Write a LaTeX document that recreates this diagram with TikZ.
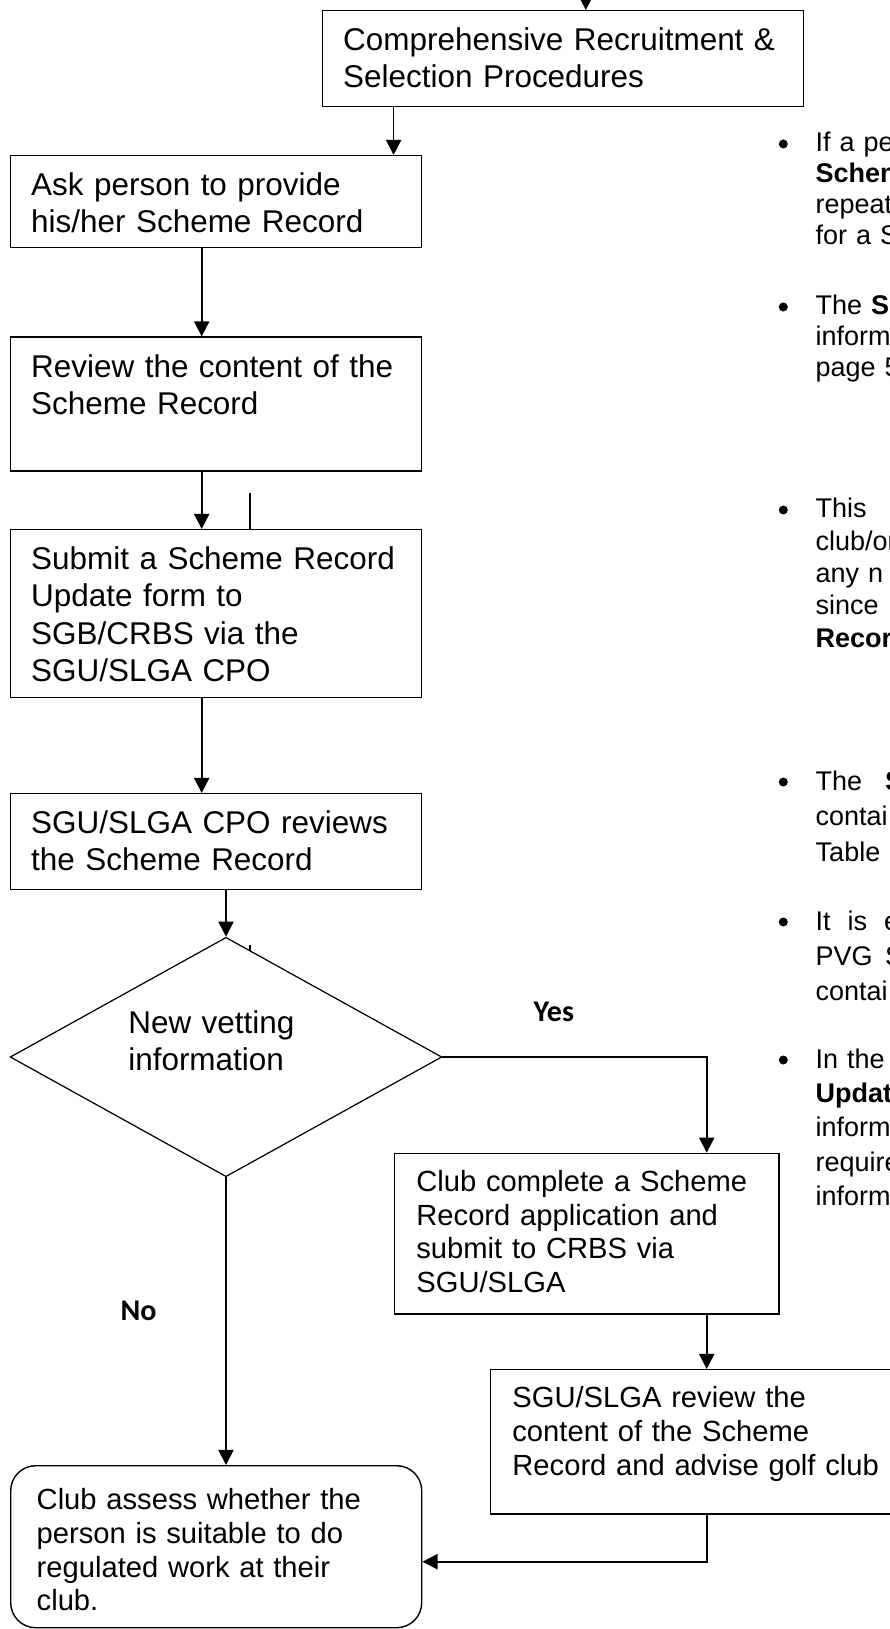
\documentclass[tikz,border=0pt]{standalone}
\usepackage{fontspec}
\setmainfont{Liberation Sans}
\newfontfamily\labelfont{Carlito}
\usetikzlibrary{arrows.meta}
\usetikzlibrary{shapes.geometric}

\begin{document}
\begin{tikzpicture}
    \tikzstyle{process box} = [draw, line width=0.4pt, rectangle, anchor=north west,
        inner xsep=0.205cm, inner ysep=0pt, text height=0.40cm, text width=3.70cm,
        align=left, font=\fontsize{8.95}{10.6}\selectfont]
    \tikzstyle{small box} = [process box, inner xsep=0.217cm, text height=0.38cm,
        font=\fontsize{8.3}{9.59}\selectfont]
    \tikzstyle{decision} = [draw, line width=0.35pt, diamond, aspect=1.8, inner sep=0pt,
        minimum width=4.317cm, minimum height=2.394cm, align=left,
        font=\fontsize{8.95}{10.6}\selectfont]
    \tikzstyle{flow line} = [line width=0.5pt]
    \tikzstyle{flow arrow} = [flow line, -{Triangle[width=4.3pt, length=4.3pt]}]
    \tikzstyle{branch label} = [anchor=base west, inner sep=0pt,
        font=\labelfont\bfseries\fontsize{8.54}{10}\selectfont]
    \tikzstyle{note text} = [anchor=base west, inner sep=0pt, text width=1.5cm, align=left]
    \tikzstyle{bullet dot} = [circle, fill, inner sep=0pt, minimum size=0.09cm]

    \useasboundingbox (0, 0) rectangle (8.90, -16.29);

    % main column
    \node[process box, text width=4.40cm, text depth=0.56cm] (topbox) at (3.22, -0.10)
        {Comprehensive Recruitment \&\\Selection Procedures};
    \node[process box, text depth=0.52cm] (askbox) at (0.10, -1.55)
        {Ask person to provide\\his/her Scheme Record};
    \node[process box, text depth=0.94cm] (reviewbox) at (0.10, -3.365)
        {Review the content of the\\Scheme Record};
    \node[process box, text depth=1.28cm] (submitbox) at (0.10, -5.29)
        {Submit a Scheme Record\\Update form to\\SGB/CRBS via the\\SGU/SLGA CPO};
    \node[process box, text depth=0.56cm] (cpobox) at (0.10, -7.93)
        {SGU/SLGA CPO reviews\\the Scheme Record};
    \node[decision, text width=1.954cm, text height=0.24cm, text depth=0.72cm] (vet) at (2.26, -10.57)
        {New vetting\\information};

    % yes branch
    \node[small box, text width=3.41cm, text depth=1.226cm] (clubbox) at (3.94, -11.527)
        {Club complete a Scheme\\Record application and\\submit to CRBS via\\SGU/SLGA};
    \node[small box, text width=3.80cm, text depth=1.063cm] (advbox) at (4.90, -13.69)
        {SGU/SLGA review the\\content of the Scheme\\Record and advise golf club};
    \node[small box, rounded corners=0.25cm, inner xsep=0.26cm, text width=3.59cm,
        text height=0.44cm, text depth=1.18cm] (assessbox) at (0.10, -14.65)
        {Club assess whether the\\person is suitable to do\\regulated work at their\\club.};

    \node[branch label] (yes) at (5.33, -10.217) {Yes};
    \node[branch label] (no) at (1.20, -13.207) {No};

    \coordinate (entry) at (5.858, 0.30);
    \coordinate (down1) at (3.936, 0);
    \coordinate (spine) at (2.017, 0);
    \coordinate (yesx) at (7.067, 0);
    \coordinate (back) at (0, -15.617);
    \coordinate (stray) at (2.50, -4.93);
    \coordinate (tick) at (2.50, -9.45);

    \draw[flow arrow] (entry) -- (entry |- topbox.north);
    \draw[flow arrow] (topbox.south -| down1) -- (askbox.north -| down1);
    \draw[flow arrow] (askbox.south -| spine) -- (reviewbox.north -| spine);
    \draw[flow arrow] (reviewbox.south -| spine) -- (submitbox.north -| spine);
    \draw[flow line] (stray) -- (stray |- submitbox.north);
    \draw[flow arrow] (submitbox.south -| spine) -- (cpobox.north -| spine);
    \draw[flow arrow] (cpobox.south -| vet.north) -- (vet.north);
    \draw[line width=0.35pt] (tick) -- ++(0, -0.06);
    \draw[flow arrow] (vet.east) -| (clubbox.north -| yesx);
    \draw[flow arrow] (clubbox.south -| yesx) -- (advbox.north -| yesx);
    \draw[flow arrow] (advbox.south -| yesx) |- (assessbox.east |- back);
    \draw[flow arrow] (vet.south) -- (assessbox.north -| vet.south);

    % notes on the right
    \node[bullet dot] (dot1) at (7.833, -1.44) {};
    \node[note text, font=\fontsize{7.68}{8.82}\selectfont] (note1) at (8.15, -1.52)
        {If a pe\\\textbf{Schem}\\repeat\\for a S};
    \node[bullet dot] (dot2) at (7.833, -3.07) {};
    \node[note text, font=\fontsize{7.68}{8.82}\selectfont] (note2) at (8.15, -3.15)
        {The \textbf{S}\\inform\\page 5};
    \node[bullet dot] (dot3) at (7.833, -5.10) {};
    \node[note text, font=\fontsize{7.68}{9.18}\selectfont] (note3) at (8.15, -5.18)
        {This\\club/or\\any n\\since\\\textbf{Recor}};
    \node[bullet dot] (dot4) at (7.833, -7.82) {};
    \node[note text, font=\fontsize{7.68}{10.24}\selectfont] (note4) at (8.15, -7.90)
        {The \hspace{0.14cm}\textbf{S}\\contai\\Table};
    \node[bullet dot] (dot5) at (7.833, -9.22) {};
    \node[note text, font=\fontsize{7.68}{9.96}\selectfont] (note5) at (8.15, -9.30)
        {It \hspace{0.08cm}is \hspace{0.08cm}e\\PVG \hspace{0.035cm}S\\contai};
    \node[bullet dot] (dot6) at (7.833, -10.60) {};
    \node[note text, font=\fontsize{7.68}{9.79}\selectfont] (note6) at (8.15, -10.68)
        {In the\\\textbf{Updat}\\inform\\require\\inform};
\end{tikzpicture}
\end{document}
